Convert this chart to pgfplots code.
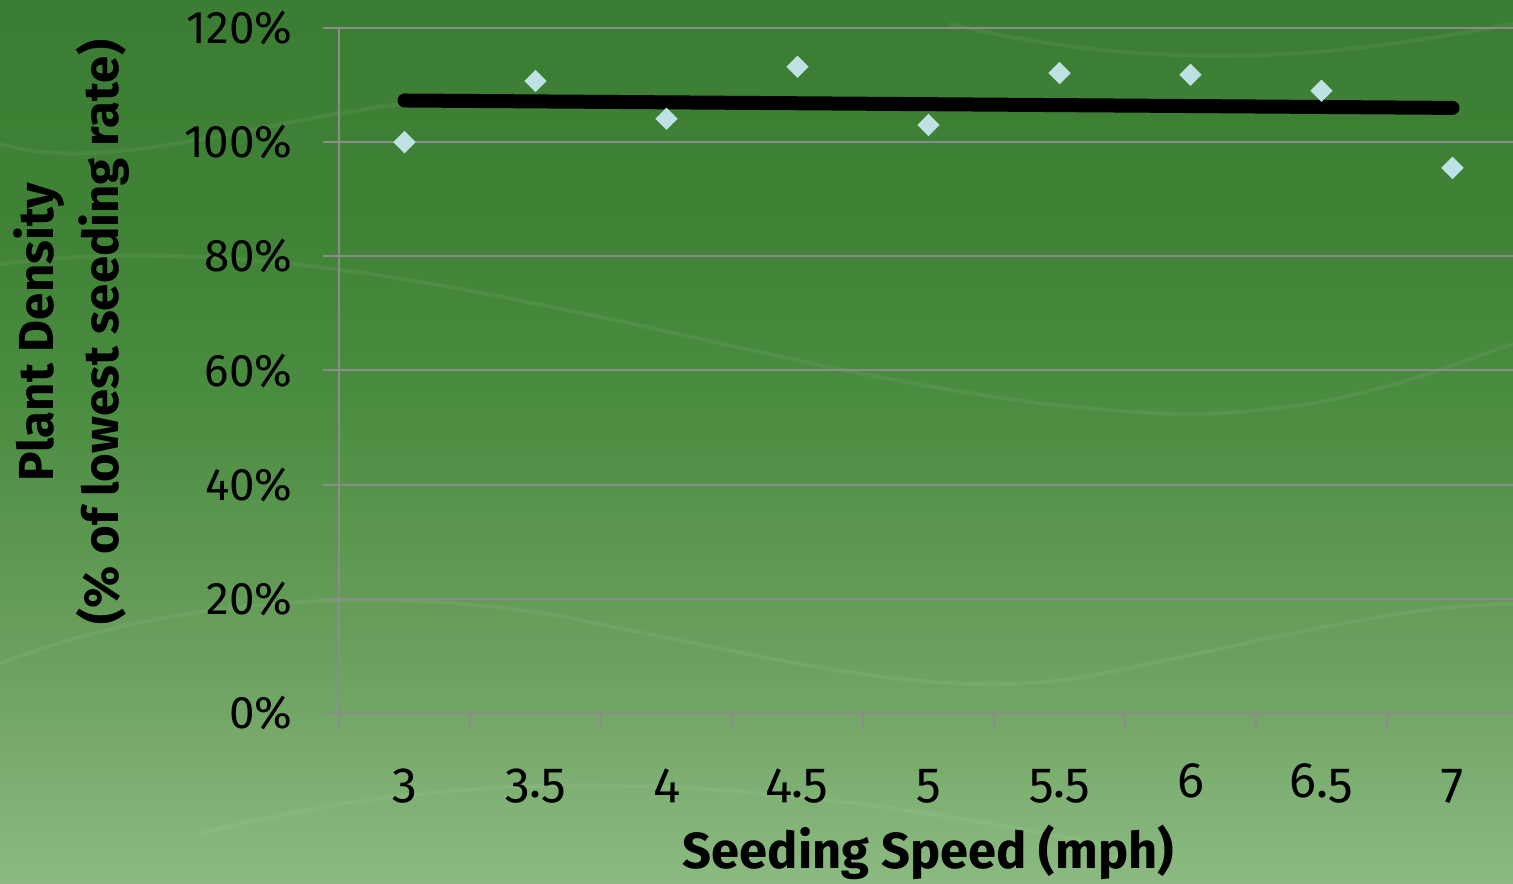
\documentclass[border=0pt]{standalone}
\usepackage{pgfplots}
\pgfplotsset{compat=1.18}
\usepackage{fontspec}
\setmainfont{Fira Sans}
\definecolor{gridgray}{RGB}{140,140,140}
\definecolor{markblue}{RGB}{190,226,228}
\pgfdeclareverticalshading{bgshade}{100bp}{rgb(0bp)=(0.55,0.73,0.51); rgb(25bp)=(0.55,0.73,0.51); rgb(37.5bp)=(0.42,0.63,0.37); rgb(52.5bp)=(0.29,0.55,0.25); rgb(62.5bp)=(0.25,0.51,0.21); rgb(75bp)=(0.23,0.49,0.20); rgb(100bp)=(0.23,0.49,0.20)}
\pgfplotstableread{
x y
0.5 100.0
1.5 110.7
2.5 104.1
3.5 113.2
4.5 103.0
5.5 112.1
6.5 111.8
7.5 109.0
8.5 95.5
}\pointdata
\pgfplotstableread{
x y
0.5 107.3
8.5 106.0
}\trenddata
\begin{document}
\begin{tikzpicture}
\useasboundingbox (0,0) rectangle (151.3mm,88.4mm);
\begin{scope}
\clip (0,0) rectangle (151.3mm,88.4mm);
\shade[shading=bgshade] (0,0) rectangle (151.3mm,88.4mm);
\begin{scope}[white, opacity=0.06, line width=0.4mm]
\draw (0,62mm) .. controls (40mm,67mm) and (80mm,48mm) .. (118mm,47mm) .. controls (135mm,47mm) and (145mm,52mm) .. (151.3mm,54mm);
\draw (0,22mm) .. controls (15mm,28mm) and (35mm,30mm) .. (55mm,27mm) .. controls (80mm,22mm) and (95mm,18mm) .. (110mm,21mm) .. controls (125mm,24mm) and (140mm,28mm) .. (151.3mm,28mm);
\draw (0,74mm) .. controls (10mm,71mm) and (25mm,76mm) .. (40mm,78mm);
\draw (20mm,5mm) .. controls (50mm,13mm) and (80mm,10mm) .. (110mm,4mm);
\draw (95mm,86mm) .. controls (120mm,80mm) and (140mm,84mm) .. (151.3mm,86mm);
\end{scope}
\end{scope}
\begin{axis}[
  at={(33.9mm,17.1mm)}, anchor=south west,
  scale only axis, width=117.9mm, height=68.5mm,
  xmin=0, xmax=9, ymin=0, ymax=120,
  axis x line*=bottom, axis y line*=left,
  axis line style={-, draw=gridgray, line width=0.2mm},
  xtick={0,...,9},
  xticklabels={3,3.5,4,4.5,5,5.5,6,6.5,7,{}},
  x tick label as interval,
  ytick={0,20,...,120},
  yticklabels={0\%,20\%,40\%,60\%,80\%,100\%,120\%},
  tick align=outside, major tick length=1.6mm,
  tick style={draw=gridgray, line width=0.2mm},
  ymajorgrids, grid style={draw=gridgray, line width=0.2mm},
  xticklabel style={font=\fontsize{14.2}{16}\selectfont\addfontfeatures{Numbers=OldStyle}, anchor=base, yshift=-6.9mm},
  yticklabel style={font=\fontsize{13}{16}\selectfont, anchor=east, xshift=-1.8mm},
  xlabel={Seeding Speed (mph)},
  xlabel style={font=\fontsize{14.4}{18}\selectfont\bfseries, at={(rel axis cs:0.5,0)}, anchor=base, yshift=-15.6mm},
  ylabel={Plant Density\\(\% of lowest seeding rate)},
  ylabel style={font=\fontsize{14}{18.5}\selectfont\bfseries, align=center, at={([xshift=-26.7mm]rel axis cs:0,0.556)}, anchor=center},
  clip=false,
]
\addplot[only marks, mark=square*, mark size=0.72mm, mark options={rotate=45, fill=markblue, draw=markblue}] table[x=x,y=y] {\pointdata};
\addplot[black, line width=1.4mm, line cap=round, no marks] table[x=x,y=y] {\trenddata};
\end{axis}
\end{tikzpicture}
\end{document}
